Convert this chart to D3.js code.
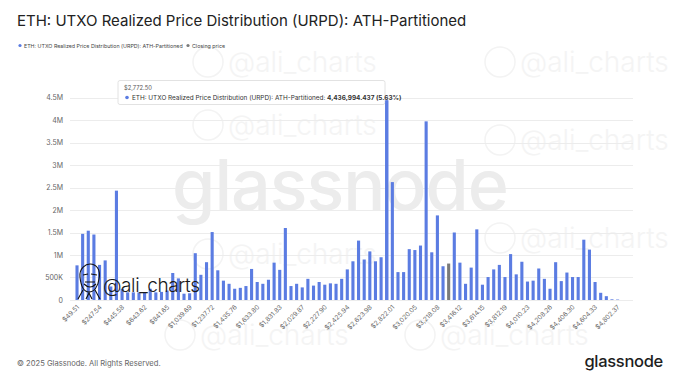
<!DOCTYPE html>
<html><head><meta charset="utf-8">
<script src="https://cdn.jsdelivr.net/npm/d3@7"></script>
<style>html,body{margin:0;padding:0;background:#fff;}svg{display:block;font-family:Inter,"Noto Sans",sans-serif;}</style>
</head><body>
<svg id="c" width="680" height="383"></svg>
<script>
// ---- data ----
const title = "ETH: UTXO Realized Price Distribution (URPD): ATH-Partitioned";
const seriesName = "ETH: UTXO Realized Price Distribution (URPD): ATH-Partitioned";
const closingName = "Closing price";
const binWidth = 49.5089;          // price width of one bin (USD)
const closingBin = 66;             // 0-based index of bin holding the closing price
const values = [
  770000,1470000,1540000,1455000,780000,880000,300000,2430000,250000,170000,
  170000,170000,170000,250000,170000,180000,210000,600000,480000,140000,
  150000,1040000,560000,840000,1510000,660000,430000,360000,250000,270000,
  310000,690000,400000,360000,450000,830000,670000,1600000,310000,360000,
  280000,470000,320000,400000,340000,370000,360000,470000,680000,860000,
  1320000,900000,1080000,860000,950000,4436994.437,2620000,620000,620000,1130000,
  1110000,1210000,3970000,1060000,1880000,750000,810000,1500000,830000,360000,
  720000,1570000,340000,510000,680000,780000,510000,1020000,570000,850000,
  410000,430000,700000,470000,250000,840000,420000,610000,510000,510000,
  1340000,1120000,400000,160000,85000,15000,10000,0,0,0
];
const xTickLabels = ["$49.51","$247.54","$445.58","$643.62","$841.65","$1,039.69","$1,237.72","$1,435.76","$1,633.80","$1,831.83","$2,029.87","$2,227.90","$2,425.94","$2,623.98","$2,822.01","$3,020.05","$3,218.08","$3,416.12","$3,614.15","$3,812.19","$4,010.23","$4,208.26","$4,406.30","$4,604.33","$4,802.37"];
const yTicks = [0,500000,1000000,1500000,2000000,2500000,3000000,3500000,4000000,4500000];
const yTickLabels = ["0","500K","1M","1.5M","2M","2.5M","3M","3.5M","4M","4.5M"];
const tooltipBin = 55;
const tooltipPrice = "$2,772.50";
const tooltipValue = "4,436,994.437 (5.63%)";
const footer = "© 2025 Glassnode. All Rights Reserved.";

// ---- drawing ----
const svg = d3.select("#c");
const BLUE = "#5b7ce2", GRAY = "#7a7a7a";
svg.append("rect").attr("width",680).attr("height",383).attr("fill","#fff");

// faint watermarks
const wm = svg.append("g");
const wmPos = [[228,72],[520,72],[228,135],[520,150],[228,264],[520,248],[200,345],[440,345]];
wmPos.forEach(p=>{
  wm.append("circle").attr("cx",p[0]-20).attr("cy",p[1]-10).attr("r",15).attr("fill","none").attr("stroke","#f3f3f3").attr("stroke-width",1.5);
  wm.append("text").attr("x",p[0]).attr("y",p[1]).attr("font-size",28).attr("font-weight",300).attr("fill","#f4f4f4").text("@ali_charts");
});
svg.append("text").attr("x",340).attr("y",210).attr("text-anchor","middle").attr("font-size",70).attr("font-weight",500)
  .attr("fill","#ececec").attr("letter-spacing",-1).text("glassnode");

const x = d3.scaleBand().domain(d3.range(values.length)).range([74.2, 637.3]).paddingInner(0.45).paddingOuter(0.225);
const y = d3.scaleLinear().domain([0,4500000]).range([300,97.5]);
const plotL = 70, plotR = 633;

// gridlines
svg.append("g").selectAll("line").data(yTicks).join("line")
  .attr("x1",plotL).attr("x2",plotR).attr("y1",d=>Math.round(y(d))+0.5).attr("y2",d=>Math.round(y(d))+0.5)
  .attr("stroke","#ececec").attr("stroke-width",1);

// y axis labels
const yAxis = d3.axisLeft(y).tickValues(yTicks).tickFormat((d,i)=>yTickLabels[i]).tickSize(0).tickPadding(0);
const gy = svg.append("g").attr("transform","translate(63,0)").call(yAxis);
gy.select(".domain").remove();
gy.selectAll("text").attr("font-size",7).attr("fill","#666").attr("font-family","Inter,sans-serif");

// bars
svg.append("g").selectAll("rect").data(values).join("rect")
  .attr("x",(d,i)=>x(i)).attr("width",x.bandwidth())
  .attr("y",d=>y(d)).attr("height",d=>Math.max(0,y(0)-y(d)))
  .attr("fill",(d,i)=>i===closingBin?GRAY:BLUE);

// x axis labels
const tickIdx = xTickLabels.map((_,i)=>i*4);
const xAxis = d3.axisBottom(x).tickValues(tickIdx).tickFormat((d,i)=>xTickLabels[i]).tickSize(0).tickPadding(0);
const gx = svg.append("g").attr("transform","translate(0,303)").call(xAxis);
gx.select(".domain").remove();
gx.selectAll("text").attr("font-size",6.5).attr("fill","#666").attr("font-family","Inter,sans-serif")
  .attr("text-anchor","end").attr("dy","0.35em").attr("transform","translate(1,3) rotate(-45)");

// @ali_charts overlay
const ov = svg.append("g");
ov.append("text").attr("x",103).attr("y",292).attr("font-size",19).attr("font-weight",300).attr("fill","#1a1a1a")
  .attr("font-family","Inter,sans-serif").attr("textLength",97).text("@ali_charts");
const face = ov.append("g").attr("fill","none").attr("stroke","#111").attr("stroke-width",1.1);
face.append("path").attr("d","M80,277 C79,268 86,264 90,264 C96,264 101,269 99,279 C98,287 94,292 89,292 C84,292 81,287 80,277 Z");
face.append("path").attr("d","M83,275 L88,274 M91,274 L97,275 M84,284 C88,288 92,288 96,284 M85,282 L95,282");
face.append("path").attr("d","M78,299 L83,290 M100,299 L95,290 M86,299 L89,293 L92,299");

// tooltip
const tip = svg.append("g");
tip.append("rect").attr("x",118).attr("y",80.5).attr("width",267).attr("height",24).attr("rx",2)
  .attr("fill","#fff").attr("stroke","#e2e2e2").attr("stroke-width",1);
tip.append("text").attr("x",124).attr("y",90).attr("font-size",5.8).attr("fill","#555").text(tooltipPrice);
tip.append("circle").attr("cx",127).attr("cy",97.5).attr("r",1.8).attr("fill",BLUE);
const tt = tip.append("text").attr("x",132).attr("y",99.6).attr("font-size",6.4).attr("fill","#333");
tt.append("tspan").text(seriesName + ": ");
tt.append("tspan").attr("font-weight",700).text(tooltipValue);
// redraw hovered bar on top of tooltip edge
svg.append("rect").attr("x",x(tooltipBin)).attr("width",x.bandwidth()).attr("y",y(values[tooltipBin])).attr("height",y(0)-y(values[tooltipBin])).attr("fill",BLUE);

// title & legend
svg.append("text").attr("x",17).attr("y",26).attr("font-size",15).attr("font-weight",400).attr("fill","#222").text(title);
const lg = svg.append("g").attr("font-size",5.3).attr("fill","#444");
lg.append("circle").attr("cx",20).attr("cy",45.5).attr("r",1.6).attr("fill",BLUE);
lg.append("text").attr("x",24).attr("y",47.5).text(seriesName);
lg.append("circle").attr("cx",188).attr("cy",45.5).attr("r",1.6).attr("fill",GRAY);
lg.append("text").attr("x",192).attr("y",47.5).text(closingName);

// footer
svg.append("text").attr("x",17).attr("y",366).attr("font-size",7.6).attr("fill","#666").text(footer);
svg.append("text").attr("x",663).attr("y",367).attr("text-anchor","end").attr("font-size",16.5).attr("font-weight",500)
  .attr("fill","#1e1e1e").attr("letter-spacing",-0.3).text("glassnode");
</script>
</body></html>
